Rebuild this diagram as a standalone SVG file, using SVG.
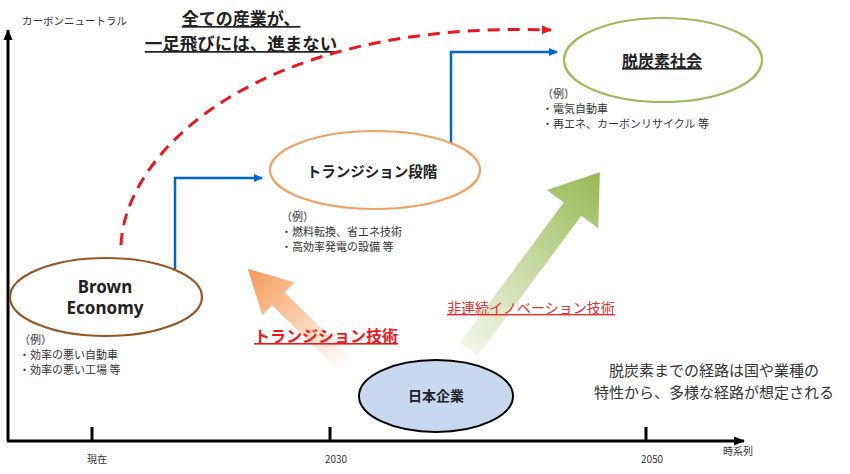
<svg xmlns="http://www.w3.org/2000/svg" width="850" height="474" viewBox="0 0 850 474">
<style>
text{font-family:"Noto Sans CJK JP","Noto Sans",sans-serif;fill:#222}
.ex{font-size:11px;fill:#333}
.ax{font-size:10px;fill:#333}
.b{font-weight:bold}
.u{text-decoration:underline}
.blue{fill:none;stroke:#0066CC;stroke-width:2.5}
</style>
<defs>
<marker id="ab" markerWidth="10" markerHeight="10" refX="8" refY="5" orient="auto" markerUnits="userSpaceOnUse"><path d="M0,1 L9,5 L0,9 Z" fill="#0066CC"/></marker>
<marker id="ar" markerWidth="12" markerHeight="12" refX="9" refY="6" orient="auto" markerUnits="userSpaceOnUse"><path d="M0,1.5 L10,6 L0,10.5 Z" fill="#E8191E"/></marker>
<marker id="ak" markerWidth="12" markerHeight="12" refX="10" refY="6" orient="auto" markerUnits="userSpaceOnUse"><path d="M0,1.5 L11,6 L0,10.5 Z" fill="#000"/></marker>
<linearGradient id="gg" x1="0" y1="0" x2="1" y2="0"><stop offset="0" stop-color="#F2F6E8"/><stop offset="1" stop-color="#98B954"/></linearGradient>
<linearGradient id="go" x1="0" y1="0" x2="1" y2="0"><stop offset="0" stop-color="#FFFFFF"/><stop offset="1" stop-color="#F49A55"/></linearGradient>
</defs>
<rect width="850" height="474" fill="#fff"/>
<g id="axes">
<line x1="8" y1="441" x2="8" y2="30" stroke="#000" stroke-width="3" marker-end="url(#ak)"/>
<line x1="7" y1="441" x2="744" y2="441" stroke="#000" stroke-width="3" marker-end="url(#ak)"/>
<line x1="92" y1="427" x2="92" y2="441" stroke="#000" stroke-width="3"/>
<line x1="330" y1="427" x2="330" y2="441" stroke="#000" stroke-width="3"/>
<line x1="646" y1="427" x2="646" y2="441" stroke="#000" stroke-width="3"/>
<text x="22" y="25" style="font-size:10.5px;fill:#333">カーボンニュートラル</text>
<text class="ax" x="97" y="463" text-anchor="middle">現在</text>
<text class="ax" x="336" y="463" text-anchor="middle">2030</text>
<text class="ax" x="652" y="463" text-anchor="middle">2050</text>
<text class="ax" x="738" y="455" text-anchor="middle">時系列</text>
</g>
<g id="title">
<text class="b u" x="241" y="25" text-anchor="middle" style="font-size:17px">全ての産業が、</text>
<text class="b u" x="241" y="50" text-anchor="middle" style="font-size:17.5px">一足飛びには、進まない</text>
</g>
<g id="arrows">
<polygon transform="translate(469,349) rotate(-53.5)" points="0,-11 174,-11 174,-32 220,0 174,32 174,11 0,11" fill="url(#gg)"/>
<polygon transform="translate(347,366) rotate(-135.6)" points="0,-9 96,-9 96,-23 139,0 96,23 96,9 0,9" fill="url(#go)"/>
</g>
<g id="connectors">
<path d="M121,245 C125,150 260,20 551,30" fill="none" stroke="#E8191E" stroke-width="3" stroke-dasharray="12,8" marker-end="url(#ar)"/>
<path class="blue" d="M175,287 V178 H262" marker-end="url(#ab)"/>
<path class="blue" d="M451,163 V52 H557" marker-end="url(#ab)"/>
</g>
<g id="brown">
<ellipse cx="106" cy="297" rx="96" ry="39" fill="#fff" stroke="#97561F" stroke-width="2.2"/>
<text class="b" x="105" y="293" text-anchor="middle" style="font-size:17px;font-family:'Noto Sans','Open Sans',sans-serif">Brown</text>
<text class="b" x="105" y="314" text-anchor="middle" style="font-size:17px;font-family:'Noto Sans','Open Sans',sans-serif">Economy</text>
<text class="ex" x="19" y="344">（例）</text>
<text class="ex" x="19" y="359">・効率の悪い自動車</text>
<text class="ex" x="19" y="374">・効率の悪い工場 等</text>
</g>
<g id="transition">
<ellipse cx="375" cy="170" rx="105" ry="39" fill="#fff" stroke="#F0A060" stroke-width="2.2"/>
<text class="b" x="372" y="177" text-anchor="middle" style="font-size:14.5px">トランジション段階</text>
<text class="ex" x="281" y="221">（例）</text>
<text class="ex" x="281" y="236">・燃料転換、省エネ技術</text>
<text class="ex" x="281" y="251">・高効率発電の設備 等</text>
</g>
<g id="decarbon">
<ellipse cx="663" cy="60" rx="99" ry="42" fill="#fff" stroke="#9BBB59" stroke-width="2.2"/>
<text class="b u" x="662" y="67" text-anchor="middle" style="font-size:16px">脱炭素社会</text>
<text class="ex" x="542" y="98">（例）</text>
<text class="ex" x="542" y="113">・電気自動車</text>
<text class="ex" x="542" y="128">・再エネ、カーボンリサイクル 等</text>
</g>
<g id="japan">
<ellipse cx="436" cy="396" rx="77" ry="36" fill="#C6D9F1" stroke="#000" stroke-width="2"/>
<text class="b" x="436" y="401" text-anchor="middle" style="font-size:14px">日本企業</text>
</g>
<g id="labels">
<text class="b u" x="326" y="342" text-anchor="middle" style="font-size:16px;fill:#E8191E">トランジション技術</text>
<text class="u" x="531" y="313" text-anchor="middle" style="font-size:14px;fill:#E03030">非連続イノベーション技術</text>
<text x="714" y="376" text-anchor="middle" style="font-size:15px;fill:#333">脱炭素までの経路は国や業種の</text>
<text x="714" y="398" text-anchor="middle" style="font-size:15px;fill:#333">特性から、多様な経路が想定される</text>
</g>
</svg>
